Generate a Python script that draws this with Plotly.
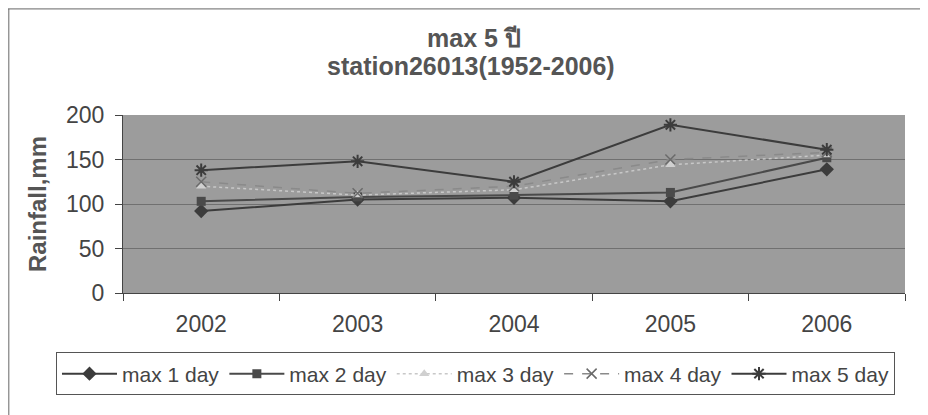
import plotly.graph_objects as go

years = ["2002", "2003", "2004", "2005", "2006"]
max_1_day = [92, 105, 107, 103, 139]
max_2_day = [103, 108, 110, 113, 152]
max_3_day = [120, 110, 116, 144, 155]
max_4_day = [125, 112, 120, 150, 158]
max_5_day = [138, 148, 125, 189, 161]

FONT = "Liberation Sans, Arial, sans-serif"
INK = "#444444"

series = [
    ("max 1 day", max_1_day, dict(color="#3c3c3c", width=2), dict(symbol="diamond", size=11, color="#3c3c3c")),
    ("max 2 day", max_2_day, dict(color="#4a4a4a", width=2), dict(symbol="square", size=9, color="#4a4a4a")),
    ("max 3 day", max_3_day, dict(color="#c8c8c8", width=1.5, dash="dot"), dict(symbol="triangle-up", size=9, color="#d0d0d0")),
    ("max 4 day", max_4_day, dict(color="#8a8a8a", width=1.5, dash="dash"), dict(symbol="x-thin", size=10, line=dict(color="#6a6a6a", width=1.5))),
    ("max 5 day", max_5_day, dict(color="#3c3c3c", width=2), dict(symbol="asterisk", size=11, line=dict(color="#3c3c3c", width=2))),
]

fig = go.Figure()
for name, values, line, marker in series:
    fig.add_trace(go.Scatter(x=years, y=values, name=name, mode="lines+markers",
                             line=line, marker=marker))

# the page adds an 8px body margin, so the margins below are offset for it
fig.update_layout(
    width=928,
    height=415,
    margin=dict(l=115, r=31, t=107, b=130, autoexpand=False),
    paper_bgcolor="white",
    plot_bgcolor="#9c9c9c",
    font=dict(family=FONT, color=INK, size=23),
    showlegend=True,
    legend=dict(
        orientation="h",
        x=-0.0857, xanchor="left",
        y=-0.455, yanchor="middle",
        bordercolor="#555555", borderwidth=1,
        font=dict(family=FONT, size=21, color=INK),
        itemwidth=55,
        bgcolor="white",
    ),
    annotations=[
        dict(text="<b>max 5 ปี</b>", xref="paper", yref="paper", x=0.449, y=1.433,
             xanchor="center", yanchor="middle",
             showarrow=False, font=dict(size=25, color="#555555")),
        dict(text="<b>station26013(1952-2006)</b>", xref="paper", yref="paper", x=0.445, y=1.275,
             xanchor="center", yanchor="middle",
             showarrow=False, font=dict(size=25, color="#555555")),
        dict(text="<b>Rainfall,mm</b>", xref="paper", yref="paper", x=-0.11, y=0.5,
             xanchor="center", yanchor="middle",
             textangle=-90, showarrow=False, font=dict(size=24, color="#555555")),
    ],
    shapes=[
        dict(type="line", xref="paper", yref="paper", x0=-0.15, x1=1.05, y0=1.596, y1=1.596,
             line=dict(color="#666666", width=1)),
        dict(type="line", xref="paper", yref="paper", x0=-0.146, x1=-0.146, y0=1.596, y1=-0.75,
             line=dict(color="#666666", width=1)),
    ],
)

fig.update_xaxes(
    type="category",
    tickson="boundaries",
    ticks="outside", ticklen=7, tickcolor="#444444",
    showline=True, linecolor="#444444", linewidth=1,
    showgrid=False,
    automargin=False,
    ticklabelstandoff=10,
    tickfont=dict(size=23, color=INK),
    range=[-0.5, 4.5],
)
fig.update_yaxes(
    range=[0, 200],
    dtick=50,
    ticks="outside", ticklen=7, tickcolor="#444444",
    showline=True, linecolor="#444444", linewidth=1,
    showgrid=True, gridcolor="#707070", gridwidth=1,
    zeroline=False,
    automargin=False,
    ticklabelstandoff=6,
    tickfont=dict(size=23, color=INK),
)

fig.write_html("out.html")
